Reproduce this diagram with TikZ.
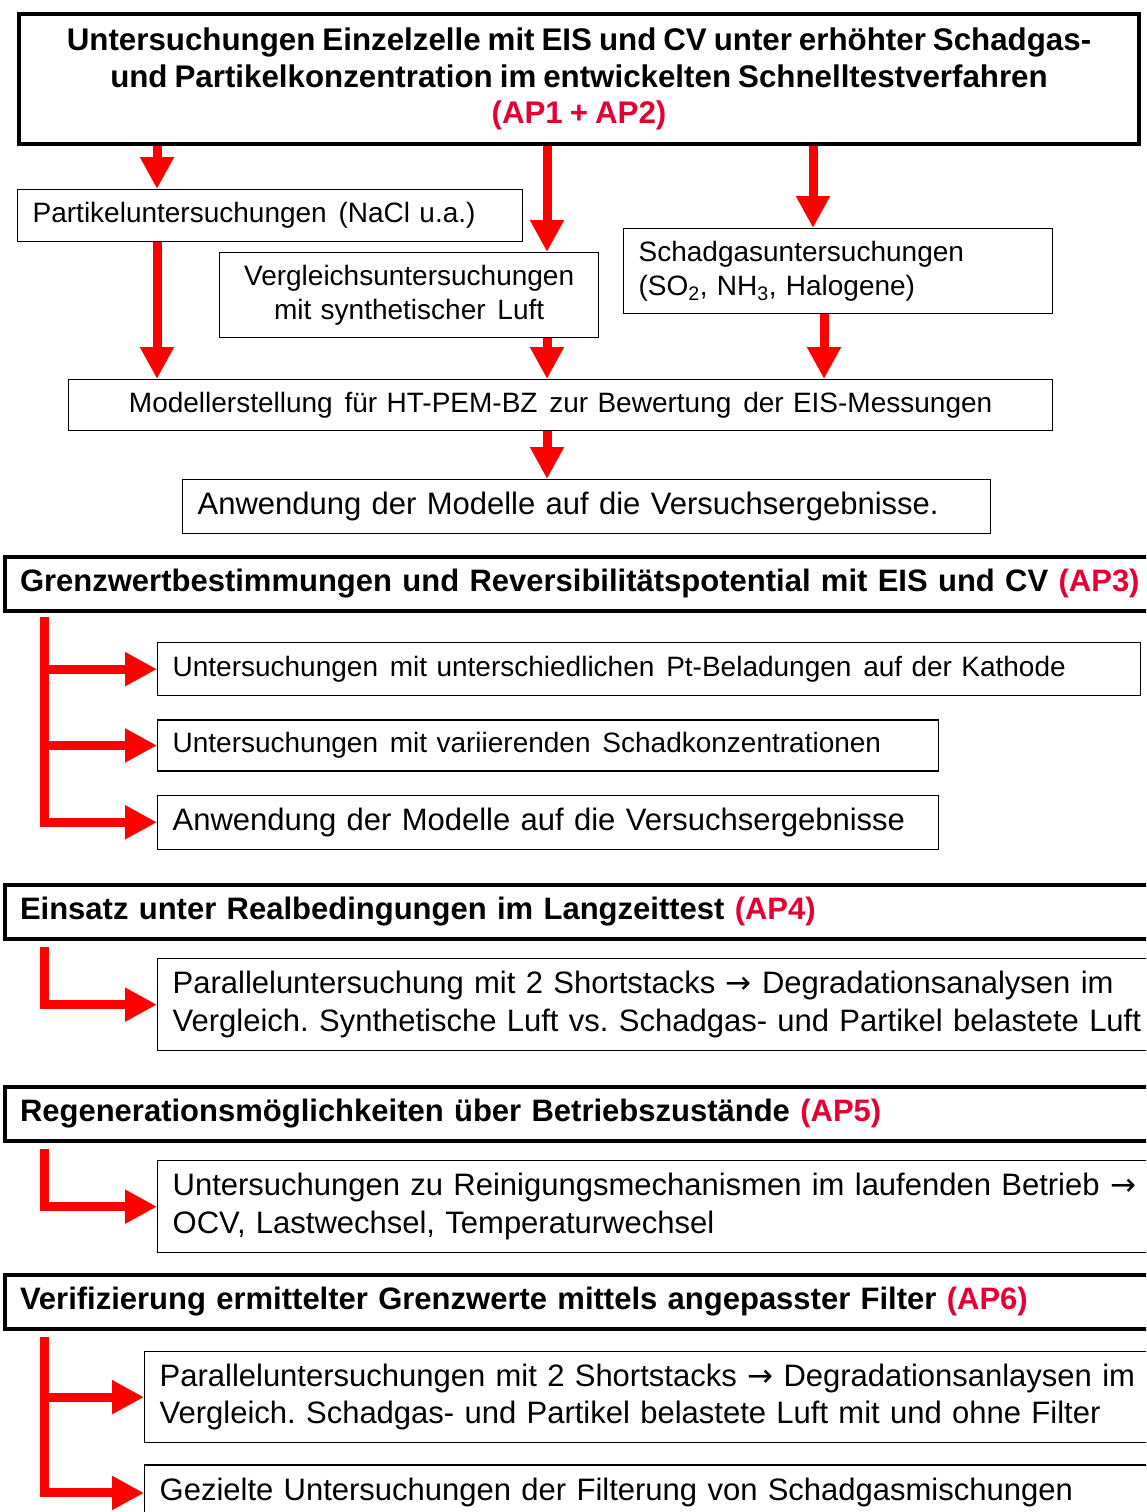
\documentclass[tikz,border=0pt]{standalone}
\usepackage{fontspec}
\setmainfont{Liberation Sans}[WordSpace=0.8]
\newfontfamily\arrowfont{DejaVu Sans}
\usetikzlibrary{positioning,arrows.meta}
\definecolor{apred}{RGB}{228,0,50}
\newcommand{\sarrow}{{\arrowfont →}}
\newcommand{\wgap}{\hspace{2.5pt}}
\frenchspacing

\begin{document}
\begin{tikzpicture}[x=1pt,y=-1pt,
 titlebox/.style={draw, line width=4pt, align=center, font=\fontsize{31.3}{36.5}\selectfont\bfseries},
 headbox/.style={draw, line width=4pt, anchor=north west, align=left, text width=1200pt, inner xsep=15pt, minimum height=54pt, font=\fontsize{31}{37}\selectfont\bfseries},
 subbox/.style={draw, line width=1.3pt, anchor=north west, align=left, inner xsep=15pt, inner ysep=0pt, font=\fontsize{28}{34.5}\selectfont},
 bigbox/.style={subbox, font=\fontsize{31}{37.5}\selectfont},
 redarrow/.style={red, line width=9pt, -{Triangle[length=32pt,width=32pt]}}
]
 \useasboundingbox (0,0) rectangle (1146,1512);
 \clip (0,0) rectangle (1146,1512);

 %Coordinates
 \coordinate (leftA) at (157,0);
 \coordinate (midA) at (547,0);
 \coordinate (rightA) at (813,0);
 \coordinate (rightB) at (824,0);
 \coordinate (ap3line) at (44,617);
 \coordinate (ap4line) at (44,947);
 \coordinate (ap5line) at (44,1149);
 \coordinate (ap6line) at (44,1337);

 %AP1 + AP2
 \node (title) [titlebox, minimum width=1120pt, minimum height=130pt] at (579,79) {Untersuchungen Einzelzelle mit EIS und CV unter erhöhter Schadgas-\\und Partikelkonzentration im entwickelten Schnelltestverfahren\\\textcolor{apred}{(AP1 + AP2)}};
 \node (partikel) [subbox, text width=475pt, minimum height=52pt] at (17,189) {Partikeluntersuchungen\wgap{} (NaCl u.a.)};
 \node (vergleich) [subbox, align=center, text width=349pt, minimum height=85pt] at (219,252) {Vergleichsuntersuchungen\\mit synthetischer\wgap{} Luft};
 \node (schadgas) [subbox, text width=399pt, minimum height=85pt] at (623,228) {Schadgasuntersuchungen\\(SO\textsubscript{2}, NH\textsubscript{3}, Halogene)};
 \node (modell) [subbox, align=center, text width=954pt, minimum height=51pt] at (68,379) {Modellerstellung\wgap{} für HT-PEM-BZ\wgap{} zur Bewertung\wgap{} der EIS-Messungen};
 \node (anwendung) [bigbox, text width=778pt, minimum height=54pt] at (182,479) {Anwendung der Modelle auf die Versuchsergebnisse.};

 %AP3
 \node (ap3) [headbox] at (3,555) {Grenzwertbestimmungen und Reversibilitätspotential mit EIS und CV \textcolor{apred}{(AP3)}};
 \node (ap3a) [subbox, text width=953pt, minimum height=53pt] at (157,642) {Untersuchungen\wgap{} mit unterschiedlichen\wgap{} Pt-Beladungen\wgap{} auf der Kathode};
 \node (ap3b) [subbox, text width=751pt, minimum height=51pt, below=23pt of ap3a.south west, anchor=north west] {Untersuchungen\wgap{} mit variierenden\wgap{} Schadkonzentrationen};
 \node (ap3c) [bigbox, text width=751pt, minimum height=54pt, below=23pt of ap3b.south west, anchor=north west] {Anwendung der Modelle auf die Versuchsergebnisse};

 %AP4
 \node (ap4) [headbox] at (3,883) {Einsatz unter Realbedingungen im Langzeittest \textcolor{apred}{(AP4)}};
 \node (ap4a) [bigbox, text width=1100pt, minimum height=92pt] at (157,958) {Paralleluntersuchung mit 2 Shortstacks \sarrow{} Degradationsanalysen im\\Vergleich. Synthetische Luft vs. Schadgas- und Partikel belastete Luft};

 %AP5
 \node (ap5) [headbox] at (3,1085) {Regenerationsmöglichkeiten über Betriebszustände \textcolor{apred}{(AP5)}};
 \node (ap5a) [bigbox, text width=1100pt, minimum height=92pt] at (157,1160) {Untersuchungen zu Reinigungsmechanismen im laufenden Betrieb \sarrow\\OCV, Lastwechsel, Temperaturwechsel};

 %AP6
 \node (ap6) [headbox] at (3,1273) {Verifizierung ermittelter Grenzwerte mittels angepasster Filter \textcolor{apred}{(AP6)}};
 \node (ap6a) [bigbox, text width=1100pt, minimum height=91pt] at (144,1351) {Paralleluntersuchungen mit 2 Shortstacks \sarrow{} Degradationsanlaysen im\\Vergleich. Schadgas- und Partikel belastete Luft mit und ohne Filter};
 \node (ap6b) [bigbox, text width=1100pt, minimum height=56pt, below=21pt of ap6a.south west, anchor=north west] {Gezielte Untersuchungen der Filterung von Schadgasmischungen};

 %Arrows
 \draw[redarrow] (title.south -| leftA) -- (partikel.north -| leftA);
 \draw[redarrow] (title.south -| midA) -- (vergleich.north -| midA);
 \draw[redarrow] (title.south -| rightA) -- (schadgas.north -| rightA);
 \draw[redarrow] (partikel.south -| leftA) -- (modell.north -| leftA);
 \draw[redarrow] (vergleich.south -| midA) -- (modell.north -| midA);
 \draw[redarrow] (schadgas.south -| rightB) -- (modell.north -| rightB);
 \draw[redarrow] (modell.south -| midA) -- (anwendung.north -| midA);

 \draw[redarrow] (ap3line) |- (ap3c.west);
 \draw[redarrow] (ap3line |- ap3a.west) -- (ap3a.west);
 \draw[redarrow] (ap3line |- ap3b.west) -- (ap3b.west);
 \draw[redarrow] (ap4line) |- (ap4a.west);
 \draw[redarrow] (ap5line) |- (ap5a.west);
 \draw[redarrow] (ap6line) |- (ap6b.west);
 \draw[redarrow] (ap6line |- ap6a.west) -- (ap6a.west);

\end{tikzpicture}
\end{document}
